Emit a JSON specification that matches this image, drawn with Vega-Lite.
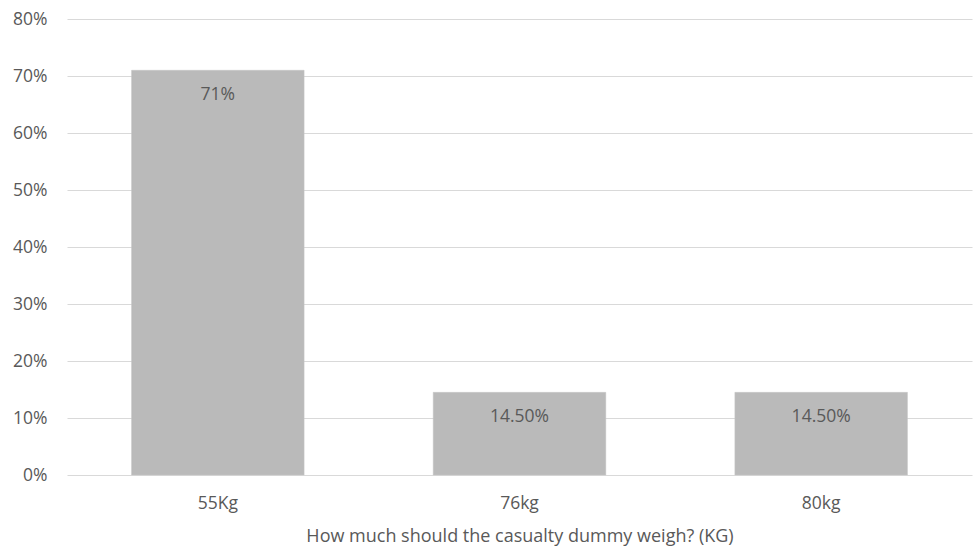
{
  "$schema": "https://vega.github.io/schema/vega-lite/v6.json",
  "autosize": {"type": "none"},
  "width": 905,
  "height": 456,
  "padding": {"left": 67, "top": 19, "right": 1, "bottom": 74},
  "background": "white",
  "config": {
    "view": {"stroke": null},
    "font": "Open Sans",
    "axis": {
      "labelFont": "Open Sans",
      "titleFont": "Open Sans",
      "labelColor": "#595959",
      "titleColor": "#595959",
      "labelFontSize": 17.5,
      "titleFontSize": 18,
      "titleFontWeight": "normal",
      "gridColor": "#d9d9d9",
      "gridWidth": 1,
      "domain": false,
      "ticks": false
    }
  },
  "data": {
    "values": [
      {"weight": "55Kg", "share": 0.71, "label": "71%"},
      {"weight": "76kg", "share": 0.145, "label": "14.50%"},
      {"weight": "80kg", "share": 0.145, "label": "14.50%"}
    ]
  },
  "encoding": {
    "x": {
      "field": "weight",
      "type": "nominal",
      "sort": null,
      "scale": {"paddingInner": 0.428, "paddingOuter": 0.214},
      "axis": {
        "title": "How much should the casualty dummy weigh? (KG)",
        "labelAngle": 0,
        "labelPadding": 19,
        "titlePadding": 16,
        "grid": false
      }
    },
    "y": {
      "field": "share",
      "type": "quantitative",
      "scale": {"domain": [0, 0.8], "nice": false},
      "axis": {
        "title": null,
        "values": [0, 0.1, 0.2, 0.3, 0.4, 0.5, 0.6, 0.7, 0.8],
        "format": ".0%",
        "labelPadding": 20,
        "grid": true
      }
    }
  },
  "layer": [
    {
      "mark": {"type": "bar", "color": "#bababa", "stroke": "#c4c4c4", "strokeWidth": 0.5}
    },
    {
      "mark": {"type": "text", "baseline": "middle", "dy": 25, "color": "#595959", "fontSize": 17.5, "font": "Open Sans"},
      "encoding": {"text": {"field": "label"}}
    }
  ]
}
